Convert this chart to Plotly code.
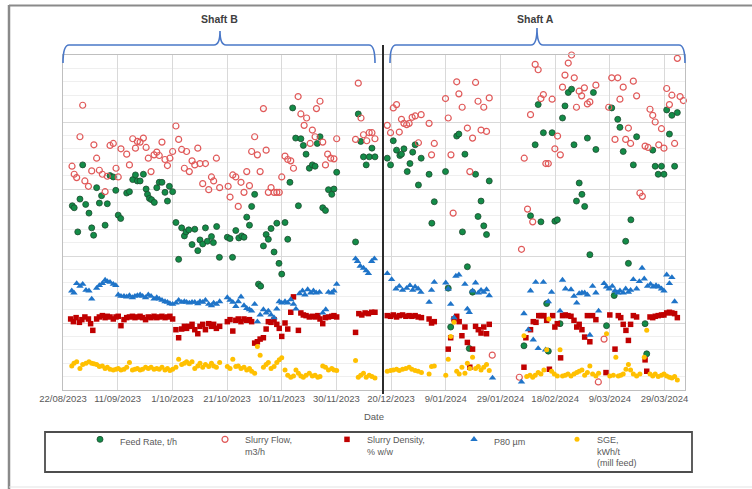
import datetime as dt
import plotly.graph_objects as go

# Sample times are given as days since 22/08/2023
START = dt.datetime(2023, 8, 22)

feed_t = [3.4, 4.1, 5.4, 6.2, 7.2, 8.3, 9.5, 10.5, 11.2, 12.3, 13.3, 14.1, 15.4, 16.2, 17.2, 18.4, 19.3, 20.2, 21.1,
          23.3, 24.3, 25.5, 26.5, 27.2, 28.2, 29.4, 30.4, 30.9, 31.6, 32.4, 33.4, 34.3, 35.2, 36.2, 37.3, 38.2, 38.9,
          40.1, 41.3, 42.3, 43.4, 44.4, 45.0, 46.0, 47.2, 48.2, 49.3, 50.1, 51.1, 52.1, 52.8, 54.3, 55.0, 56.2, 57.2,
          60.1, 61.1, 62.0, 63.2, 64.3, 65.4, 66.2, 67.2, 68.2, 69.0, 70.1, 71.5, 72.3, 73.3, 74.3, 75.1, 76.1, 77.2,
          78.2, 79.0, 80.0, 81.2, 82.2, 83.0, 84.0, 85.1, 86.1, 87.0, 87.9, 88.9, 90.1, 91.2, 92.2, 93.0, 94.0, 95.0,
          96.0, 97.1, 98.3, 99.1, 100.1, 107.0, 108.0, 108.9, 109.9, 110.9, 112.0, 113.0, 114.1,
          118.6, 119.8, 120.8, 122.0, 123.2, 123.8, 124.7, 125.9, 126.9, 127.9, 128.8, 130.0, 131.0, 133.9, 134.9,
          135.8, 139.9, 140.9, 141.8, 144.0, 144.8, 146.1, 147.0, 147.9, 148.6, 149.8, 150.9, 151.8, 152.9, 153.9,
          154.9, 155.9, 168.6, 171.0, 172.7, 173.8, 174.8, 175.7, 176.9, 177.5, 178.9, 179.9, 180.8, 181.8, 182.7,
          183.6, 184.8, 186.0, 186.9, 187.8, 188.8, 189.8, 190.8, 191.8, 192.7, 194.0, 194.9, 198.8, 200.7, 201.6,
          202.9, 203.7, 204.9, 205.8, 206.8, 207.7, 208.6, 209.8, 212.9, 213.5, 215.7, 216.6, 217.7, 218.9, 219.8,
          220.8, 221.8, 222.7, 223.7, 224.7]
feed_v = [275, 272, 236, 285, 336, 277, 264, 242, 231, 302, 279, 290, 246, 278, 320, 318, 298, 261, 256,
          294, 296, 314, 321, 312, 312, 322, 300, 292, 286, 284, 280, 302, 310, 310, 295, 282, 304,
          296, 250, 195, 242, 230, 236, 239, 217, 240, 208, 224, 218, 242, 222, 229, 220, 244, 198,
          228, 226, 198, 238, 227, 230, 228, 258, 246, 274, 292, 158, 155, 215, 232, 225, 241, 206,
          249, 189, 173, 250, 225, 310, 421, 376, 275, 375, 365, 352, 331, 336, 334, 368, 378, 272,
          268, 299, 292, 300, 325, 221, 412, 371, 348, 336, 348, 361, 348,
          346, 336, 372, 358, 350, 352, 360, 326, 338, 355, 366, 306, 346, 322, 249,
          281, 326, 152, 94, 379, 382, 236, 352, 184, 62, 146, 322, 259, 282, 245,
          232, 312, 66, 260, 366, 426, 251, 384, 129, 58, 384, 252, 254, 99, 406,
          424, 444, 449, 366, 282, 309, 292, 274, 376, 202, 444, 359, 96, 421, 141,
          404, 392, 356, 222, 189, 254, 336, 378, 99, 54, 358, 334, 322, 334, 322,
          418, 382, 410, 334, 414]

flow_t = [3.3, 4.1, 5.0, 6.2, 7.2, 8.0, 9.3, 10.5, 11.3, 12.3, 13.3, 14.4, 15.4, 16.2, 17.2, 18.4, 19.4, 20.2, 21.2,
          23.3, 24.3, 25.5, 26.5, 27.2, 28.2, 29.4, 30.4, 31.2, 32.2, 33.3, 34.3, 35.2, 36.2, 37.3, 38.2, 39.1, 40.1,
          41.3, 42.3, 43.4, 44.4, 45.2, 46.2, 47.2, 48.2, 49.3, 50.1, 51.1, 52.1, 53.3, 54.3, 55.1, 56.1, 57.3, 60.4,
          61.1, 62.1, 63.2, 64.1, 65.1, 66.2, 67.2, 68.2, 69.0, 70.1, 71.1, 72.1, 73.3, 74.3, 75.1, 76.1, 77.2, 78.2,
          79.1, 80.0, 81.2, 82.2, 83.3, 84.3, 86.0, 87.0, 88.2, 89.1, 90.4, 91.2, 92.2, 92.7, 94.0, 95.0, 96.0, 96.8,
          97.9, 99.1, 100.1, 107.0, 108.0, 109.0, 109.9, 111.1, 112.0, 113.0, 114.1,
          118.6, 119.8, 120.8, 122.0, 123.0, 123.8, 124.7, 125.7, 126.6, 127.7, 128.8, 130.0, 131.0, 133.9, 134.8,
          135.8, 139.9, 140.9, 141.9, 142.7, 144.0, 144.8, 146.0, 147.9, 148.8, 149.8, 150.9, 151.8, 152.9, 153.9,
          154.9, 155.9, 157.0, 166.9, 167.7, 168.7, 169.9, 171.0, 171.8, 172.7, 173.8, 174.8, 175.7, 176.6, 177.5,
          178.9, 179.9, 180.9, 181.9, 182.7, 183.6, 184.8, 186.0, 187.0, 187.8, 188.8, 189.7, 190.7, 191.8, 192.7,
          194.9, 195.8, 197.9, 199.6, 200.7, 201.9, 202.9, 203.7, 204.9, 205.8, 206.8, 207.6, 208.6, 209.8, 211.0,
          211.9, 212.9, 214.0, 214.7, 215.7, 216.6, 217.9, 218.9, 219.8, 220.8, 221.8, 222.7, 223.7, 224.7, 225.7,
          226.9, 227.9]
flow_v = [334, 322, 317, 378, 425, 312, 304, 327, 366, 346, 328, 322, 296, 319, 365, 368, 331, 318, 360,
          352, 336, 375, 361, 371, 370, 376, 362, 346, 326, 351, 355, 350, 370, 344, 335, 346, 356,
          394, 374, 359, 331, 356, 326, 342, 336, 361, 338, 308, 338, 299, 318, 312, 346, 302, 304,
          288, 321, 318, 274, 310, 295, 326, 305, 356, 378, 351, 326, 420, 358, 295, 302, 295, 295,
          295, 318, 349, 344, 342, 331, 438, 412, 395, 406, 368, 388, 378, 420, 431, 370, 336, 352,
          346, 345, 375, 374, 458, 406, 381, 372, 384, 384, 375,
          395, 384, 421, 426, 385, 404, 398, 396, 398, 407, 409, 369, 411, 398, 351,
          368, 435, 406, 351, 264, 460, 442, 422, 391, 326, 376, 459, 431, 388, 422,
          386, 436, 52, 19, 210, 346, 270, 411, 251, 486, 478, 435, 441, 338, 338,
          434, 360, 379, 351, 452, 470, 488, 500, 466, 422, 446, 439, 451, 427, 430,
          455, 12, 76, 422, 466, 374, 466, 434, 452, 374, 391, 368, 461, 439, 294,
          289, 364, 362, 419, 410, 400, 366, 390, 361, 450, 426, 440, 368, 495, 438,
          432, 390]

dens_t = [2.8, 3.8, 4.8, 6.0, 6.9, 8.0, 9.3, 10.1, 10.9, 12.3, 13.3, 14.4, 15.4, 16.2, 17.2, 18.4, 19.4, 20.2, 21.2,
          22.3, 23.3, 24.3, 25.4, 26.3, 27.2, 28.2, 29.1, 30.2, 31.2, 32.2, 33.3, 34.3, 35.2, 36.2, 37.3, 38.2, 39.1,
          40.1, 41.3, 42.3, 43.4, 44.4, 45.2, 46.2, 47.2, 48.2, 49.3, 50.1, 51.1, 52.1, 53.3, 54.3, 55.1, 56.1, 57.3,
          60.1, 61.1, 62.1, 63.2, 64.1, 65.1, 66.2, 67.2, 68.2, 69.0, 70.1, 71.1, 72.1, 73.3, 74.3, 75.1, 76.1, 77.2,
          78.2, 79.1, 80.0, 81.2, 82.2, 83.3, 84.3, 86.1, 87.0, 87.9, 88.9, 90.1, 91.2, 92.2, 93.2, 94.0, 95.0, 96.0,
          97.1, 98.3, 99.1, 100.1, 107.0, 108.2, 109.3, 110.5, 111.7, 112.9, 114.1,
          118.6, 119.8, 120.8, 122.0, 123.0, 124.2, 125.4, 126.6, 127.6, 128.8, 129.9, 131.1, 133.9, 134.8, 135.8,
          140.9, 141.8, 143.0, 144.0, 144.9, 145.9, 147.0, 147.9, 148.8, 149.8, 150.9, 151.9, 152.9, 153.9, 154.9,
          155.9, 168.6, 169.3, 171.0, 172.0, 173.0, 174.0, 174.9, 175.9, 176.9, 177.9, 179.1, 179.9, 180.8, 182.0,
          182.7, 183.7, 184.7, 185.8, 186.9, 187.9, 188.8, 189.8, 190.8, 191.8, 192.7, 193.7, 194.9, 198.6, 200.0,
          201.9, 203.1, 204.0, 204.9, 205.9, 206.8, 207.6, 208.6, 209.8, 212.9, 213.5, 214.7, 215.7, 216.6, 217.7,
          218.9, 219.8, 220.8, 221.8, 222.7, 223.7, 224.7]
dens_v = [106, 102, 108, 101, 105, 109, 106, 99, 89, 106, 109, 111, 108, 110, 109, 106, 109, 110, 96,
          105, 108, 109, 110, 108, 109, 110, 108, 105, 109, 108, 110, 108, 109, 110, 108, 109, 110,
          106, 90, 78, 91, 95, 92, 95, 98, 90, 84, 95, 98, 90, 99, 95, 98, 92, 95,
          102, 105, 88, 104, 106, 102, 106, 104, 105, 102, 70, 72, 76, 78, 91, 102, 101, 105,
          98, 92, 80, 100, 91, 116, 139, 89, 115, 112, 111, 109, 110, 109, 111, 106, 99, 108,
          109, 110, 111, 109, 86, 114, 112, 115, 114, 116, 116,
          111, 110, 112, 109, 111, 112, 110, 111, 110, 111, 109, 108, 106, 100, 102,
          61, 78, 106, 110, 102, 81, 94, 71, 34, 61, 95, 90, 85, 94, 84,
          98, 34, 78, 90, 102, 101, 111, 111, 111, 104, 31, 111, 94, 99, 48,
          111, 112, 111, 110, 104, 94, 98, 90, 79, 111, 72, 111, 105, 26, 112,
          61, 111, 108, 98, 89, 74, 98, 111, 109, 45, 28, 109, 108, 110, 111,
          112, 112, 115, 116, 115, 114, 108]

p80_t = [3.2, 4.0, 5.0, 6.2, 7.2, 8.4, 9.5, 10.5, 12.3, 13.3, 14.4, 15.4, 16.2, 17.2, 18.4, 19.3, 20.2, 21.2, 22.3,
         23.3, 24.3, 25.4, 26.3, 27.2, 28.2, 29.1, 30.2, 31.2, 32.2, 33.3, 34.3, 35.2, 36.2, 37.3, 38.2, 39.1, 40.1,
         41.3, 42.3, 43.4, 44.4, 45.2, 46.2, 47.2, 48.2, 49.3, 50.1, 51.1, 52.1, 53.3, 54.3, 55.1, 56.1, 57.3, 60.1,
         61.1, 62.1, 63.2, 64.1, 65.1, 66.2, 67.2, 68.2, 69.0, 70.1, 71.1, 72.1, 73.3, 74.3, 75.1, 76.1, 77.2, 78.2,
         79.1, 80.0, 81.2, 82.2, 83.3, 84.3, 85.2, 86.5, 87.6, 88.5, 89.5, 90.6, 91.6, 92.6, 93.8, 95.0, 96.1, 97.1,
         98.3, 99.1, 100.1, 107.0, 107.7, 108.7, 109.9, 110.9, 111.7, 112.9, 113.9,
         118.6, 120.2, 121.8, 123.0, 124.2, 125.7, 126.9, 127.9, 128.8, 129.9, 130.9, 133.9, 134.8, 135.8, 140.0,
         140.9, 141.8, 143.0, 143.7, 144.8, 147.0, 147.9, 148.6, 149.8, 150.9, 151.9, 152.9, 153.9, 154.9, 155.9,
         157.1, 167.7, 168.6, 170.2, 171.0, 172.0, 172.9, 173.8, 175.7, 176.5, 177.5, 178.7, 181.8, 182.7, 183.8,
         185.8, 186.9, 187.9, 188.8, 189.8, 190.8, 191.8, 192.7, 193.7, 194.9, 195.9, 197.9, 198.8, 199.8, 200.9,
         201.9, 202.9, 203.7, 204.9, 205.8, 206.8, 207.6, 208.6, 209.8, 210.8, 211.8, 212.6, 213.8, 214.9, 215.9,
         216.9, 217.9, 218.9, 219.8, 220.8, 221.8, 222.7, 223.7]
p80_v = [148, 145, 159, 155, 158, 149, 148, 136, 152, 156, 159, 164, 162, 161, 158, 156, 142, 140, 140,
         139, 141, 138, 140, 141, 142, 140, 138, 142, 140, 136, 138, 136, 134, 132, 131, 129, 128,
         130, 134, 131, 132, 131, 130, 131, 131, 129, 132, 131, 134, 128, 126, 130, 128, 132, 138,
         134, 131, 125, 132, 139, 126, 122, 120, 118, 128, 102, 112, 120, 115, 118, 112, 108, 121,
         132, 130, 132, 130, 135, 128, 121, 144, 148, 142, 150, 145, 148, 145, 146, 115, 120, 146,
         145, 148, 158, 196, 192, 185, 182, 178, 174, 192, 196,
         174, 165, 151, 155, 149, 152, 156, 149, 154, 151, 146, 131, 149, 161, 160,
         151, 128, 108, 170, 172, 158, 121, 116, 148, 160, 145, 149, 146, 150, 141,
         18, 12, 114, 90, 148, 75, 161, 62, 161, 60, 132, 146, 118, 164, 151,
         150, 140, 130, 144, 145, 145, 142, 82, 155, 145, 118, 159, 154, 151, 155,
         148, 145, 148, 145, 151, 146, 149, 165, 151, 162, 182, 166, 155, 158, 154,
         156, 154, 151, 148, 172, 159, 168, 132]

sge_t = [3.2, 4.0, 5.0, 6.2, 7.2, 8.4, 9.5, 10.5, 11.3, 12.3, 13.3, 14.4, 15.4, 16.2, 17.2, 18.4, 19.4, 20.2, 21.2,
         22.3, 23.3, 24.3, 25.4, 26.3, 27.2, 28.2, 29.1, 30.2, 31.2, 32.2, 33.3, 34.3, 35.2, 36.2, 37.3, 38.2, 39.1,
         40.1, 41.3, 42.3, 43.4, 44.4, 45.2, 46.2, 47.2, 48.2, 49.3, 50.1, 51.1, 52.1, 53.3, 54.3, 55.1, 56.1, 57.3,
         60.1, 61.1, 62.1, 63.2, 64.1, 65.1, 66.2, 67.2, 68.2, 69.0, 70.1, 71.1, 72.1, 73.3, 74.3, 75.1, 76.1, 77.2,
         78.2, 79.1, 80.0, 81.2, 82.2, 83.3, 84.3, 85.2, 86.1, 87.0, 87.9, 88.9, 90.1, 91.2, 92.2, 93.2, 94.0, 95.0,
         96.0, 97.1, 98.3, 99.1, 100.1, 107.0, 108.0, 108.9, 109.9, 110.9, 112.0, 113.0, 114.1,
         118.6, 119.8, 120.8, 122.0, 123.0, 124.2, 125.4, 126.6, 127.6, 128.8, 129.9, 131.1, 133.9, 134.8, 135.8,
         140.0, 140.9, 141.8, 143.0, 144.0, 144.9, 145.9, 147.0, 147.9, 148.8, 149.8, 150.9, 151.9, 152.9, 153.9,
         154.9, 155.9, 168.6, 169.6, 170.8, 171.8, 172.7, 173.8, 174.8, 175.9, 176.9, 177.7, 178.7, 179.7, 180.8,
         181.8, 182.7, 183.7, 184.7, 185.8, 186.9, 187.9, 188.8, 189.8, 190.8, 191.8, 192.7, 193.7, 194.9, 195.9,
         198.8, 200.0, 201.3, 202.2, 203.1, 204.0, 204.9, 205.9, 206.8, 207.6, 208.6, 209.8, 211.0, 212.6, 213.5,
         214.7, 215.7, 216.6, 217.7, 218.9, 219.8, 220.8, 221.8, 222.7, 223.7, 224.7]
sge_v = [36, 40, 42, 32, 38, 40, 42, 40, 39, 38, 35, 36, 32, 34, 31, 30, 31, 32, 30,
         31, 34, 41, 30, 31, 32, 30, 31, 34, 32, 34, 31, 32, 31, 34, 30, 32, 29,
         31, 34, 46, 38, 40, 42, 39, 42, 32, 36, 40, 34, 38, 35, 40, 36, 34, 41,
         35, 32, 46, 35, 36, 32, 34, 30, 32, 28, 25, 65, 52, 34, 38, 41, 32, 35,
         41, 45, 48, 30, 22, 19, 21, 30, 25, 21, 19, 22, 25, 21, 22, 19, 20, 36,
         34, 30, 32, 30, 29, 44, 19, 22, 25, 19, 22, 20, 18,
         28, 29, 30, 31, 29, 31, 32, 34, 31, 29, 28, 26, 24, 35, 36,
         22, 46, 80, 101, 28, 24, 34, 25, 40, 32, 49, 32, 35, 30, 34,
         38, 29, 81, 20, 22, 19, 22, 26, 24, 30, 60, 106, 28, 24, 21,
         60, 21, 22, 24, 21, 24, 26, 28, 30, 22, 26, 36, 24, 21, 25,
         84, 21, 22, 49, 21, 22, 24, 31, 38, 30, 24, 21, 24, 49, 89,
         24, 21, 24, 20, 22, 24, 21, 19, 18, 20, 15]

# Axis settings
X_END_DAYS = 227.5
TICK_STEP_DAYS = 20
Y_MAX = 500

W, H = 752, 489
PL, PR, PT, PB = 63, 685, 55, 390  # plot box in pixels


def dates(days):
    return [START + dt.timedelta(days=d) for d in days]


def fx(px):
    return (px - PL) / (PR - PL)


def fy(py):
    return (PB - py) / (PB - PT)


series = [
    ("Feed Rate, t/h", feed_t, feed_v,
     dict(symbol="circle", size=6, color="#138c48", line=dict(color="#1d4a2e", width=0.8)), "legend"),
    ("Slurry Flow,<br>m3/h", flow_t, flow_v,
     dict(symbol="circle-open", size=6, color="#e05a5a", line=dict(width=1.2)), "legend2"),
    ("Slurry Density,<br>% w/w", dens_t, dens_v,
     dict(symbol="square", size=5.5, color="#c00000"), "legend3"),
    ("P80 µm", p80_t, p80_v,
     dict(symbol="triangle-up", size=6.5, color="#1f74c8"), "legend4"),
    ("SGE,<br>kWh/t<br>(mill feed)", sge_t, sge_v,
     dict(symbol="circle", size=5, color="#ffc000"), "legend5"),
]

fig = go.Figure()
for name, t, v, mk, lg in series:
    fig.add_trace(go.Scatter(x=dates(t), y=v, mode="markers", name=name, marker=mk,
                             cliponaxis=False, legend=lg))

FONT = "Liberation Sans"
GREY_TXT = "#595959"


def brace(x0, x1, xm, ybase, ytip, ypeak):
    r = 6
    pts = [
        f"M {fx(x0)},{fy(ytip)}",
        f"Q {fx(x0)},{fy(ybase)} {fx(x0 + r)},{fy(ybase)}",
        f"L {fx(xm - r)},{fy(ybase)}",
        f"Q {fx(xm)},{fy(ybase)} {fx(xm)},{fy(ypeak)}",
        f"Q {fx(xm)},{fy(ybase)} {fx(xm + r)},{fy(ybase)}",
        f"L {fx(x1 - r)},{fy(ybase)}",
        f"Q {fx(x1)},{fy(ybase)} {fx(x1)},{fy(ytip)}",
    ]
    return dict(type="path", xref="paper", yref="paper", path=" ".join(pts),
                line=dict(color="#4a78c8", width=1.6))


shapes = [
    # outer frame
    dict(type="line", xref="paper", yref="paper", x0=fx(9), x1=fx(9), y0=fy(5), y1=fy(489),
         line=dict(color="#8a8a8a", width=2.5)),
    dict(type="line", xref="paper", yref="paper", x0=fx(9), x1=fx(760), y0=fy(5.5), y1=fy(5.5),
         line=dict(color="#8a8a8a", width=2)),
    dict(type="line", xref="paper", yref="paper", x0=fx(9), x1=fx(760), y0=fy(487), y1=fy(487),
         line=dict(color="#e3e3e3", width=1)),
    # legend frame
    dict(type="rect", xref="paper", yref="paper", x0=fx(45), x1=fx(692), y0=fy(432), y1=fy(472),
         line=dict(color="#4d4d4d", width=1.8)),
    # divider between the two shafts
    dict(type="line", xref="paper", yref="paper", x0=fx(383), x1=fx(383), y0=fy(45), y1=fy(394),
         line=dict(color="#2b2b2b", width=2)),
    brace(63, 375, 220, 45, 63, 31),
    brace(390, 685, 537, 45, 63, 28),
]

annotations = [
    dict(text="<b>Shaft B</b>", x=fx(219), y=fy(19), xref="paper", yref="paper", showarrow=False,
         xanchor="center", yanchor="middle", font=dict(family=FONT, size=10.5, color="#404040")),
    dict(text="<b>Shaft A</b>", x=fx(535), y=fy(19), xref="paper", yref="paper", showarrow=False,
         xanchor="center", yanchor="middle", font=dict(family=FONT, size=10.5, color="#404040")),
]

legend_font = dict(family=FONT, size=9, color=GREY_TXT)


def legend_at(text_left):
    return dict(x=fx(text_left - 35), y=fy(427), xanchor="left", yanchor="top",
                bgcolor="rgba(0,0,0,0)", borderwidth=0, font=legend_font, valign="top")


fig.update_layout(
    width=W, height=H,
    margin=dict(l=PL, r=W - PR, t=PT, b=H - PB, autoexpand=False),
    paper_bgcolor="white", plot_bgcolor="white",
    showlegend=True,
    legend=legend_at(115), legend2=legend_at(240), legend3=legend_at(362),
    legend4=legend_at(489), legend5=legend_at(592),
    shapes=shapes, annotations=annotations,
    font=dict(family=FONT, color=GREY_TXT),
)

fig.update_xaxes(
    type="date",
    range=[START, START + dt.timedelta(days=X_END_DAYS)],
    tick0=START, dtick=TICK_STEP_DAYS * 86400000,
    tickformat="%-d/%m/%Y",
    tickfont=dict(family=FONT, size=9.5, color=GREY_TXT),
    showgrid=True, gridcolor="#d9d9d9", gridwidth=1,
    showline=True, linecolor="#bfbfbf", mirror=True,
    ticks="", zeroline=False,
    title=dict(text="Date", font=dict(family=FONT, size=9.5, color=GREY_TXT), standoff=9),
)
fig.update_yaxes(
    range=[0, Y_MAX], dtick=100, showticklabels=False,
    showgrid=True, gridcolor="#d9d9d9", gridwidth=1,
    minor=dict(dtick=20, showgrid=True, gridcolor="#efefef", gridwidth=1),
    showline=True, linecolor="#bfbfbf", mirror=True,
    ticks="", zeroline=False,
)

fig.write_html("out.html")
